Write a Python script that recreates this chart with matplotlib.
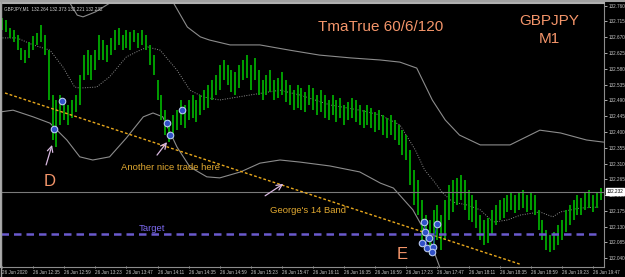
import numpy as np
import matplotlib.pyplot as plt
from matplotlib.lines import Line2D

# ---------------- data ----------------
# minutes after 26 Jun 12:11, one bar every 3 minutes
bar_minute = np.arange(0, 463, 3)
bar_high = [132.725, 132.719, 132.696, 132.690, 132.676, 132.639, 132.633, 132.656, 132.673, 132.682,
            132.705, 132.676, 132.633, 132.505, 132.491, 132.505, 132.491, 132.477, 132.491, 132.505,
            132.562, 132.619, 132.633, 132.619, 132.633, 132.676, 132.662, 132.648, 132.668, 132.690,
            132.696, 132.676, 132.690, 132.685, 132.690, 132.682, 132.690, 132.676, 132.648, 132.619,
            132.548, 132.505, 132.462, 132.434, 132.448, 132.462, 132.491, 132.477, 132.491, 132.505,
            132.491, 132.505, 132.519, 132.534, 132.548, 132.562, 132.591, 132.605, 132.591, 132.576,
            132.571, 132.591, 132.605, 132.619, 132.591, 132.611, 132.576, 132.548, 132.562, 132.576,
            132.548, 132.554, 132.571, 132.548, 132.534, 132.519, 132.534, 132.525, 132.514, 132.534,
            132.525, 132.505, 132.519, 132.505, 132.491, 132.505, 132.491, 132.497, 132.477, 132.485,
            132.497, 132.491, 132.477, 132.462, 132.477, 132.468, 132.457, 132.462, 132.448, 132.440,
            132.448, 132.434, 132.420, 132.405, 132.391, 132.348, 132.292, 132.263, 132.206, 132.163,
            132.149, 132.178, 132.192, 132.163, 132.206, 132.249, 132.263, 132.269, 132.277, 132.263,
            132.235, 132.220, 132.206, 132.163, 132.149, 132.155, 132.178, 132.192, 132.206, 132.212,
            132.220, 132.229, 132.220, 132.226, 132.235, 132.220, 132.229, 132.220, 132.178, 132.149,
            132.121, 132.106, 132.115, 132.135, 132.149, 132.178, 132.192, 132.206, 132.220, 132.212,
            132.229, 132.235, 132.220, 132.229, 132.240]
bar_low = [132.690, 132.685, 132.668, 132.656, 132.633, 132.605, 132.596, 132.611, 132.633, 132.648,
           132.656, 132.619, 132.491, 132.377, 132.357, 132.420, 132.434, 132.420, 132.440, 132.457,
           132.477, 132.548, 132.562, 132.548, 132.576, 132.605, 132.605, 132.599, 132.619, 132.633,
           132.648, 132.633, 132.639, 132.633, 132.656, 132.639, 132.648, 132.633, 132.591, 132.562,
           132.491, 132.434, 132.391, 132.371, 132.383, 132.405, 132.420, 132.411, 132.434, 132.440,
           132.428, 132.448, 132.462, 132.468, 132.491, 132.505, 132.519, 132.548, 132.534, 132.514,
           132.505, 132.525, 132.548, 132.554, 132.519, 132.548, 132.505, 132.491, 132.505, 132.514,
           132.491, 132.497, 132.505, 132.485, 132.477, 132.462, 132.468, 132.462, 132.457, 132.477,
           132.462, 132.448, 132.457, 132.440, 132.434, 132.448, 132.428, 132.440, 132.420, 132.434,
           132.440, 132.428, 132.420, 132.411, 132.420, 132.411, 132.400, 132.405, 132.391, 132.383,
           132.391, 132.377, 132.363, 132.334, 132.320, 132.249, 132.192, 132.163, 132.092, 132.064,
           132.050, 132.078, 132.092, 132.064, 132.092, 132.149, 132.172, 132.192, 132.206, 132.178,
           132.149, 132.143, 132.126, 132.092, 132.078, 132.083, 132.106, 132.135, 132.149, 132.155,
           132.172, 132.178, 132.169, 132.178, 132.183, 132.172, 132.178, 132.163, 132.121, 132.092,
           132.064, 132.058, 132.064, 132.078, 132.092, 132.115, 132.135, 132.149, 132.163, 132.163,
           132.178, 132.183, 132.172, 132.183, 132.206]

# TMA bands
upper_min = [0, 29, 51, 58, 62.5, 72, 87, 106, 122, 131, 143, 153, 160, 176, 199, 222, 245, 269,
             292, 307, 320, 332, 342, 353, 369, 392, 415, 431, 451, 464]
upper_val = [132.947, 132.862, 132.776, 132.733, 132.728, 132.742, 132.776, 132.833, 132.805, 132.776,
             132.699, 132.671, 132.662, 132.648, 132.648, 132.633, 132.619, 132.611, 132.605, 132.599,
             132.582, 132.491, 132.434, 132.391, 132.363, 132.363, 132.405, 132.397, 132.377, 132.371]
mid_min = [-1.5, 11.5, 24, 37, 47, 56, 60, 73, 83, 96, 106.5, 112.5, 122, 135, 145, 155, 168, 191,
           214.5, 230, 253, 276, 292, 307, 319, 326, 332.5, 340, 348, 358.5, 369, 379, 390, 400, 415,
           425, 431, 446, 461]
mid_val = [132.668, 132.668, 132.648, 132.633, 132.585, 132.528, 132.525, 132.528, 132.557, 132.614,
           132.633, 132.642, 132.633, 132.576, 132.519, 132.500, 132.491, 132.505, 132.519, 132.505,
           132.477, 132.462, 132.448, 132.420, 132.348, 132.292, 132.263, 132.226, 132.200, 132.192,
           132.178, 132.143, 132.149, 132.163, 132.172, 132.158, 132.172, 132.183, 132.186]
lower_min = [-1.5, 8.5, 24, 37, 50, 60, 70, 83, 96, 109, 116.5, 124, 135, 145, 158, 168, 184, 199,
             214.5, 230, 253, 276, 292, 302, 317, 330, 338, 346]
lower_val = [132.457, 132.462, 132.443, 132.425, 132.377, 132.329, 132.320, 132.329, 132.383, 132.443,
             132.454, 132.443, 132.357, 132.300, 132.272, 132.269, 132.286, 132.311, 132.320, 132.314,
             132.303, 132.286, 132.254, 132.240, 132.178, 132.092, 132.012, 131.921]

# trend line (two ends), target and bid
trend_min = [2.3, 399.7]
trend_val = [132.511, 132.023]
target_price = 132.110
bid_price = 132.230

# trade markers
trade_min = [40, 46.3, 127.3, 129.6, 138.9, 325.6, 335.6, 326.4, 329.5, 324, 328, 332.6, 331.8]
trade_val = [132.408, 132.488, 132.425, 132.391, 132.462, 132.143, 132.138, 132.115, 132.098,
             132.083, 132.069, 132.072, 132.058]

y_ticks = np.round(np.arange(132.040, 132.761, 0.045), 3)
x_tick_min = np.arange(0, 457, 24)
x_tick_lab = ['26 Jun 2020', '26 Jun 12:35', '26 Jun 12:59', '26 Jun 13:23', '26 Jun 13:47',
              '26 Jun 14:11', '26 Jun 14:35', '26 Jun 14:59', '26 Jun 15:23', '26 Jun 15:47',
              '26 Jun 16:11', '26 Jun 16:35', '26 Jun 16:59', '26 Jun 17:23', '26 Jun 17:47',
              '26 Jun 18:11', '26 Jun 18:35', '26 Jun 18:59', '26 Jun 19:23', '26 Jun 19:47']

# ---------------- figure ----------------
fig = plt.figure(figsize=(6.25, 2.77), dpi=100, facecolor='black')
ax = fig.add_axes([1 / 625, 10 / 277, 603 / 625, 264 / 277])
ax.set_facecolor('black')
ax.set_xlim(-0.8, 464.5)
ax.set_ylim(132.015, 132.7675)

txt_col = '#f4956a'
lab_col = '#e0a830'
small = dict(family='Liberation Sans', fontsize=3.3)

# bands
ax.plot(upper_min, upper_val, color='#8c8c8c', lw=0.8)
ax.plot(lower_min, lower_val, color='#8c8c8c', lw=0.8)
ax.plot(mid_min, mid_val, color='#8c8c8c', lw=0.7, linestyle=(0, (1, 1.5)))

# bars
ax.vlines(bar_minute, bar_low, bar_high, color='#009e00', lw=1.4)

# lines
ax.axhline(bid_price, color='#7a7a7a', lw=0.8)
ax.plot(trend_min, trend_val, color='#e8a81c', lw=1.0, linestyle=(0, (2, 1.5)))
ax.plot([-0.8, 458], [target_price, target_price], color='#6a5acd', lw=1.8, linestyle=(0, (3, 2)))

# trades
ax.plot([325.6, 328], [132.143, 132.069], color='#2030c0', lw=0.8)
ax.plot([335.6, 331.8], [132.138, 132.058], color='#2030c0', lw=0.8)
ax.scatter(trade_min, trade_val, s=22, facecolor='#3050c8', edgecolor='#b8c8f0', linewidth=0.8, zorder=5)

# text
ax.text(292, 132.700, 'TmaTrue 60/6/120', color=txt_col, fontsize=11, family='Liberation Sans',
        ha='center', va='center')
ax.text(422, 132.715, 'GBPJPY', color=txt_col, fontsize=11, family='Liberation Sans', ha='center', va='center')
ax.text(422, 132.665, 'M1', color=txt_col, fontsize=11, family='Liberation Sans', ha='center', va='center')
ax.text(37, 132.260, 'D', color=txt_col, fontsize=12, family='Liberation Sans', ha='center', va='center')
ax.text(309, 132.051, 'E', color=txt_col, fontsize=12, family='Liberation Sans', ha='center', va='center')
ax.text(130, 132.299, 'Another nice trade here', color=lab_col, fontsize=6.8, family='Liberation Sans',
        ha='center', va='center')
ax.text(236, 132.175, "George's 14 Band", color=lab_col, fontsize=6.8, family='Liberation Sans',
        ha='center', va='center')
ax.text(116, 132.125, 'Target', color='#7b68ee', fontsize=6.8, family='Liberation Sans',
        ha='center', va='center')
ax.text(1.5, 132.752, 'GBPJPY,M1  132.264 132.373 132.221 132.232', color='#d0d0d0', va='center', **small)

arrow = dict(arrowstyle='->', color='#d8b8e0', lw=0.9, shrinkA=0, shrinkB=0)
ax.annotate('', xy=(38.6, 132.363), xytext=(34, 132.306), arrowprops=arrow)
ax.annotate('', xy=(127.3, 132.371), xytext=(119.6, 132.334), arrowprops=arrow)
ax.annotate('', xy=(217, 132.252), xytext=(203, 132.218), arrowprops=arrow)

# axes look
for s in ['top', 'left']:
    ax.spines[s].set_color('#b0b0b0')
    ax.spines[s].set_linewidth(1.5)
for s in ['right', 'bottom']:
    ax.spines[s].set_color('#8c8c8c')
    ax.spines[s].set_linewidth(0.8)
ax.yaxis.tick_right()
ax.set_yticks(y_ticks)
ax.set_yticklabels(['%.3f' % v for v in y_ticks], **small)
ax.tick_params(axis='y', colors='#c8c8c8', length=2, width=0.6, pad=1.5)
ax.set_xticks(x_tick_min)
ax.set_xticklabels(x_tick_lab, **small)
ax.tick_params(axis='x', colors='#c8c8c8', length=2, width=0.6, pad=1.5, direction='inout')
for lab in ax.get_xticklabels():
    lab.set_horizontalalignment('left')

# bid price box
ax.text(1.004, bid_price, '%.3f' % 132.232, transform=ax.get_yaxis_transform(),
        color='black', va='center', ha='left',
        bbox=dict(boxstyle='square,pad=0.15', facecolor='white', edgecolor='white'), clip_on=False, **small)

# window frame (top and left edge)
fig.add_artist(Line2D([0, 1], [0.995, 0.995], transform=fig.transFigure, color='#a0a0a0', lw=1.5))
fig.add_artist(Line2D([0.0008, 0.0008], [0, 1], transform=fig.transFigure, color='#a0a0a0', lw=1.0))

plt.savefig('out.png', dpi=100, facecolor='black')
